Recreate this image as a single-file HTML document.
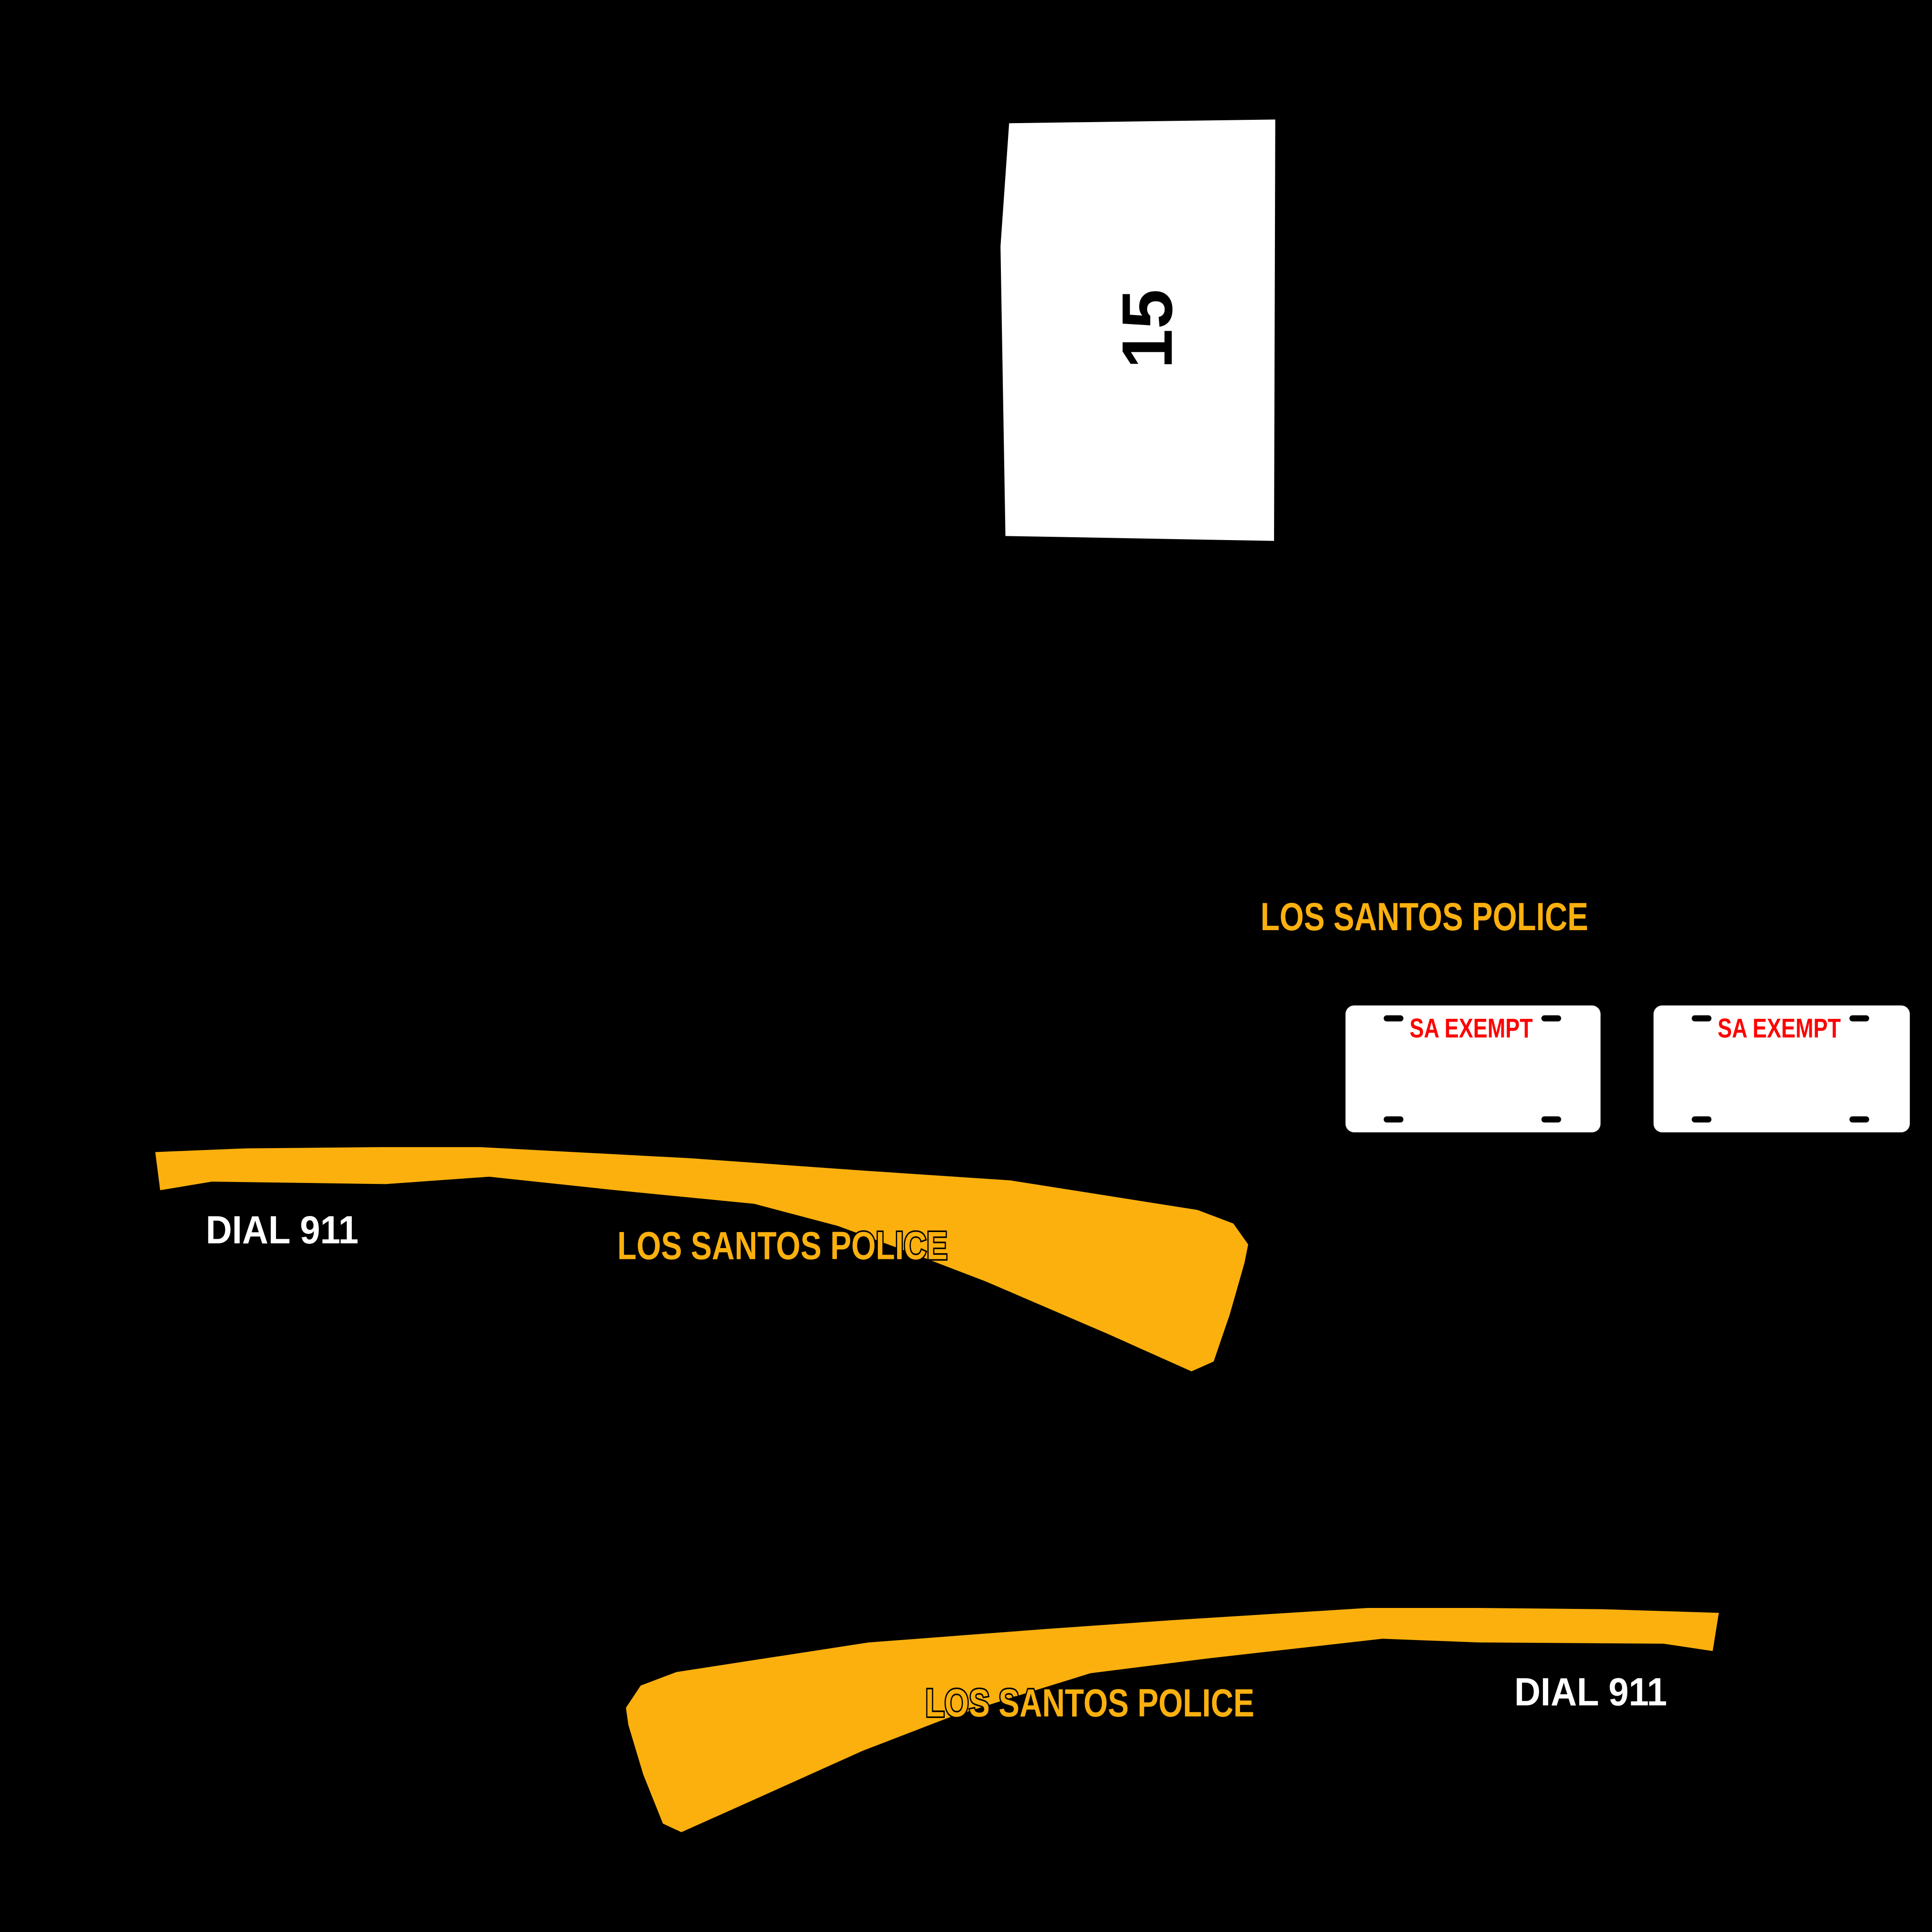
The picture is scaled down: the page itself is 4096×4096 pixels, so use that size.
<!DOCTYPE html>
<html><head><meta charset="utf-8"><style>html,body{margin:0;padding:0;background:#000;}svg{display:block}</style></head>
<body>
<svg width="4096" height="4096" viewBox="0 0 1568 1568" xmlns="http://www.w3.org/2000/svg">
<rect width="1568" height="1568" fill="#000"/>
<polygon points="819,100 1035,97 1034,439 816,435 812,200" fill="#fff"/>
<text transform="translate(951,267) rotate(-90)" text-anchor="middle" font-family="Liberation Sans Narrow, Liberation Sans, sans-serif" font-weight="bold" font-size="58" fill="#000">15</text>
<text x="1023" y="755" textLength="266" lengthAdjust="spacingAndGlyphs" font-family="Liberation Sans Narrow, Liberation Sans, sans-serif" font-weight="bold" font-size="32" fill="#fbb00e">LOS SANTOS POLICE</text>
<g>
<rect x="1092" y="816" width="207" height="103" rx="7" fill="#fff"/>
<text x="1144" y="842" textLength="100" lengthAdjust="spacingAndGlyphs" font-family="Liberation Sans Narrow, Liberation Sans, sans-serif" font-weight="bold" font-size="22" fill="#f00">SA EXEMPT</text>
<rect x="1123" y="824" width="16" height="5" rx="2.5" fill="#000"/>
<rect x="1251" y="824" width="16" height="5" rx="2.5" fill="#000"/>
<rect x="1123" y="906" width="16" height="5" rx="2.5" fill="#000"/>
<rect x="1251" y="906" width="16" height="5" rx="2.5" fill="#000"/>
</g>
<g>
<rect x="1342" y="816" width="208" height="103" rx="7" fill="#fff"/>
<text x="1394" y="842" textLength="100" lengthAdjust="spacingAndGlyphs" font-family="Liberation Sans Narrow, Liberation Sans, sans-serif" font-weight="bold" font-size="22" fill="#f00">SA EXEMPT</text>
<rect x="1373" y="824" width="16" height="5" rx="2.5" fill="#000"/>
<rect x="1501" y="824" width="16" height="5" rx="2.5" fill="#000"/>
<rect x="1373" y="906" width="16" height="5" rx="2.5" fill="#000"/>
<rect x="1501" y="906" width="16" height="5" rx="2.5" fill="#000"/>
</g>
<polygon fill="#fbb00e" points="126,935 200,932 310,931 390,931 560,940 700,950 820,958 972,982 1001,993 1013,1010 1010,1025 998,1067 985,1105 967,1113 900,1083 800,1040 740,1017 680,995 612,977 500,966 397,955 313,961 172,959 130,966"/>
<polygon fill="#fbb00e" points="1395,1309 1300,1306 1200,1305 1110,1305 950,1315 850,1322 705,1333 549,1357 520,1368 508,1386 510,1400 522,1440 538,1480 553,1487 620,1457 700,1421 770,1394 830,1375 885,1358 980,1346 1122,1330 1200,1333 1350,1334 1390,1340"/>
<text x="167" y="1009" textLength="124" lengthAdjust="spacingAndGlyphs" font-family="Liberation Sans Narrow, Liberation Sans, sans-serif" font-weight="bold" font-size="32" fill="#fff">DIAL 911</text>
<text x="501" y="1022" textLength="268" lengthAdjust="spacingAndGlyphs" font-family="Liberation Sans Narrow, Liberation Sans, sans-serif" font-weight="bold" font-size="32" fill="#fbb00e" stroke="#000" stroke-width="2.5" paint-order="stroke">LOS SANTOS POLICE</text>
<text x="751" y="1393" textLength="267" lengthAdjust="spacingAndGlyphs" font-family="Liberation Sans Narrow, Liberation Sans, sans-serif" font-weight="bold" font-size="32" fill="#fbb00e" stroke="#000" stroke-width="2.5" paint-order="stroke">LOS SANTOS POLICE</text>
<text x="1229" y="1384" textLength="124" lengthAdjust="spacingAndGlyphs" font-family="Liberation Sans Narrow, Liberation Sans, sans-serif" font-weight="bold" font-size="32" fill="#fff">DIAL 911</text>
</svg>
</body></html>
